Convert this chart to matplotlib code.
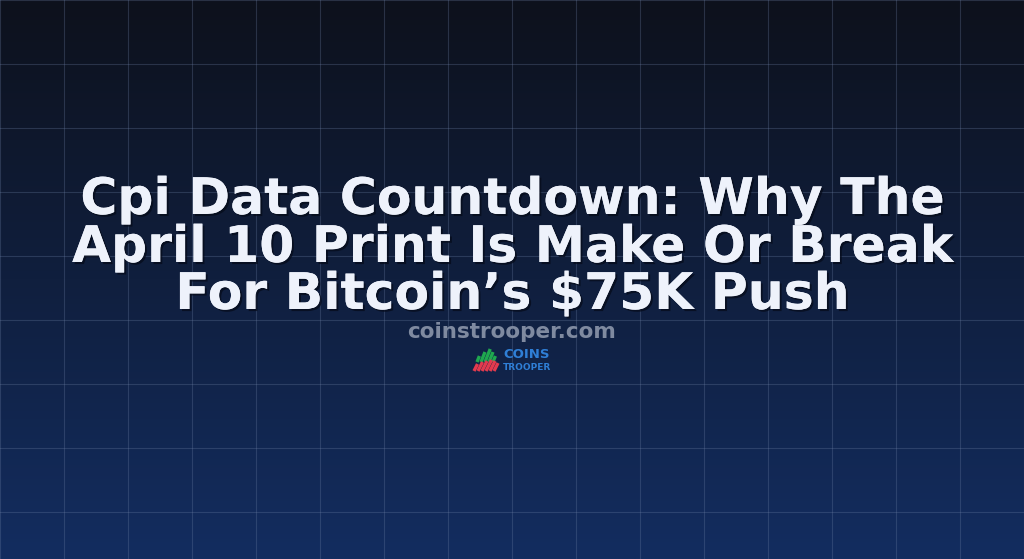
import numpy as np
import matplotlib.pyplot as plt
import matplotlib.patheffects as pe

W, H = 1024, 559

title_lines = ["Cpi Data Countdown: Why The",
               "April 10 Print Is Make Or Break",
               "For Bitcoin\u2019s $75K Push"]
title_y = [200, 248, 295]
site = "coinstrooper.com"
logo_top = "COINS"
logo_bottom = "TROOPER"

# logo strokes: (x bottom, y bottom, height) for green and red slants
green_strokes = [(477, 362, 6), (481, 362, 10), (485, 362, 13), (489, 362, 10), (493, 362, 6)]
red_strokes = [(474, 371, 7), (478, 371, 9), (482, 371, 10), (486, 371, 11), (490, 371, 10), (494, 371, 8)]

fig = plt.figure(figsize=(W / 100, H / 100), dpi=100)
ax = fig.add_axes([0, 0, 1, 1])
ax.set_xlim(0, W)
ax.set_ylim(H, 0)
ax.axis('off')

# vertical gradient background
top = np.array([0x0d, 0x11, 0x1c]) / 255
bot = np.array([0x13, 0x2d, 0x60]) / 255
t = np.linspace(0, 1, H)[:, None]
grad = top + (bot - top) * t
img = np.repeat(grad[:, None, :], 2, axis=1)
ax.imshow(img, extent=[0, W, H, 0], aspect='auto', interpolation='bilinear', zorder=0)

# grid
for gx in range(0, W + 1, 64):
    ax.axvline(gx, color='#6b7ea3', alpha=0.3, lw=0.8, zorder=1)
for gy in range(0, H + 1, 64):
    ax.axhline(gy, color='#6b7ea3', alpha=0.3, lw=0.8, zorder=1)

shadow = [pe.withSimplePatchShadow(offset=(1.5, -1.5), shadow_rgbFace='#050a18', alpha=0.7), pe.Normal()]
for line, y in zip(title_lines, title_y):
    ax.text(W / 2, y, line, ha='center', va='center', fontsize=36.3, fontweight='bold',
            family='DejaVu Sans', color='#eef2fb', zorder=3, path_effects=shadow)

ax.text(W / 2, 332, site, ha='center', va='center', fontsize=15.5, fontweight='bold',
        family='DejaVu Sans', color='#7f8aa0', zorder=3)

# logo
for x, y, h in green_strokes:
    ax.plot([x, x + h * 0.4], [y, y - h], color='#1fa84f', lw=2.4, solid_capstyle='butt', zorder=3)
for x, y, h in red_strokes:
    ax.plot([x, x + h * 0.5], [y, y - h], color='#e23a4e', lw=2.4, solid_capstyle='butt', zorder=3)
ax.text(503, 355, logo_top, ha='left', va='center', fontsize=9.5, fontweight='bold',
        family='DejaVu Sans', color='#2f7fd6', zorder=3)
ax.text(503, 367, logo_bottom, ha='left', va='center', fontsize=6.5, fontweight='bold',
        family='DejaVu Sans', color='#2f7fd6', zorder=3)

fig.savefig('out.png', dpi=100)
